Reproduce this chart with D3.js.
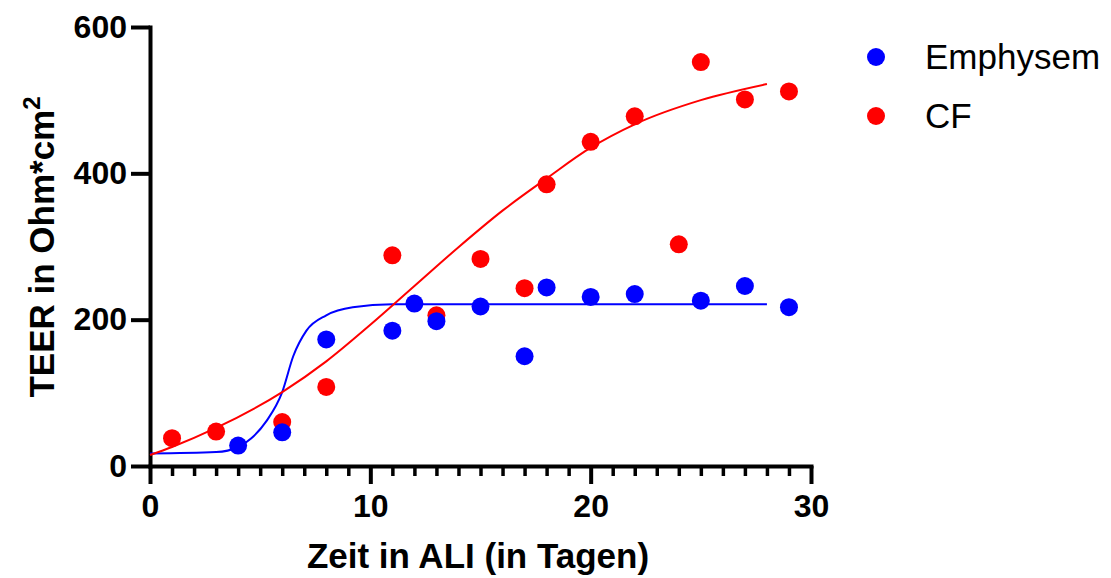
<!DOCTYPE html>
<html>
<head>
<meta charset="utf-8">
<script src="https://cdn.jsdelivr.net/npm/d3@7"></script>
<style>
  body { margin: 0; background: #fff; }
  svg { font-family: "Liberation Sans", Arial, Helvetica, sans-serif; }
</style>
</head>
<body>
<svg id="chart" width="1111" height="578"></svg>
<script>
// measured points (day, TEER)
const emphysemDays = [4, 6, 8, 11, 12, 13, 15, 17, 18, 20, 22, 25, 27, 29];
const emphysemTeer = [28, 46, 173, 185, 222, 198, 218, 150, 244, 231, 235, 226, 246, 217];
const cfDays = [1, 3, 6, 8, 11, 13, 15, 17, 18, 20, 22, 24, 25, 27, 29];
const cfTeer = [38, 47, 60, 108, 288, 206, 283, 243, 385, 443, 478, 303, 552, 501, 512];

// fitted curves
const emphysemFitDays = [0, 3, 4, 4.6, 5.3, 6, 6.5, 7.1, 8, 9.2, 11, 14, 20, 28];
const emphysemFitTeer = [17, 19, 26, 38, 62, 101, 150, 185, 206, 217, 221, 221, 221, 221];
const cfFitDays = [0, 1, 3, 6, 8, 10, 12, 14, 16, 18, 20, 22, 25, 28];
const cfFitTeer = [15, 26, 52, 101, 143, 193, 246, 299, 349, 393, 435, 467, 500, 522];

const xTicks = [0, 10, 20, 30];
const yTicks = [0, 200, 400, 600];
const seriesNames = ["Emphysem", "CF"];
const seriesColors = ["#0000ff", "#ff0000"];

const svg = d3.select("#chart");

const x = d3.scaleLinear().domain([0, 30]).range([150, 811]);
const y = d3.scaleLinear().domain([0, 600]).range([466, 27]);

// axes ---------------------------------------------------------------
const styleAxis = g => {
    g.selectAll(".domain").attr("stroke", "#000").attr("stroke-width", 4).attr("stroke-linecap", "square");
    g.selectAll(".tick line").attr("stroke", "#000").attr("stroke-width", 4);
    g.selectAll(".tick text")
        .attr("fill", "#000")
        .attr("font-size", 32)
        .attr("font-weight", "bold");
};

// minor ticks on x
svg.append("g")
    .attr("transform", `translate(0,${y(0)})`)
    .call(d3.axisBottom(x)
        .tickValues(d3.range(0, 31).filter(d => d % 10 !== 0))
        .tickSize(10)
        .tickFormat(""))
    .call(g => g.select(".domain").remove())
    .call(g => g.selectAll(".tick line").attr("stroke", "#000").attr("stroke-width", 3.5));

svg.append("g")
    .attr("transform", `translate(0,${y(0)})`)
    .call(d3.axisBottom(x).tickValues(xTicks).tickSize(18).tickSizeOuter(0).tickPadding(10))
    .call(styleAxis);

svg.append("g")
    .attr("transform", `translate(${x(0)},0)`)
    .call(d3.axisLeft(y).tickValues(yTicks).tickSize(19).tickSizeOuter(0).tickPadding(4))
    .call(styleAxis);

// axis titles
svg.append("text")
    .attr("x", 478)
    .attr("y", 568)
    .attr("text-anchor", "middle")
    .attr("font-size", 35)
    .attr("font-weight", "bold")
    .text("Zeit in ALI (in Tagen)");

const yTitle = svg.append("text")
    .attr("transform", "translate(54,247) rotate(-90)")
    .attr("text-anchor", "middle")
    .attr("font-size", 35)
    .attr("font-weight", "bold");
yTitle.append("tspan").text("TEER in Ohm*cm");
yTitle.append("tspan").attr("font-size", 24).attr("dy", -14).text("2");

// fit curves ---------------------------------------------------------
const line = d3.line()
    .x(d => x(d[0]))
    .y(d => y(d[1]))
    .curve(d3.curveMonotoneX);

const fits = [
    d3.zip(emphysemFitDays, emphysemFitTeer),
    d3.zip(cfFitDays, cfFitTeer)
];

fits.forEach((pts, i) => {
    svg.append("path")
        .datum(pts)
        .attr("fill", "none")
        .attr("stroke", seriesColors[i])
        .attr("stroke-width", 2)
        .attr("d", line);
});

// points (CF first so Emphysem sits on top)
const points = [
    d3.zip(emphysemDays, emphysemTeer),
    d3.zip(cfDays, cfTeer)
];

[1, 0].forEach(i => {
    svg.append("g")
        .selectAll("circle")
        .data(points[i])
        .enter()
        .append("circle")
        .attr("cx", d => x(d[0]))
        .attr("cy", d => y(d[1]))
        .attr("r", 9)
        .attr("fill", seriesColors[i]);
});

// legend
const legend = svg.append("g");
seriesNames.forEach((name, i) => {
    const cy = 57 + i * 59;
    legend.append("circle")
        .attr("cx", 876)
        .attr("cy", cy)
        .attr("r", 9)
        .attr("fill", seriesColors[i]);
    legend.append("text")
        .attr("x", 925)
        .attr("y", cy + 12)
        .attr("font-size", 35)
        .text(name);
});
</script>
</body>
</html>
